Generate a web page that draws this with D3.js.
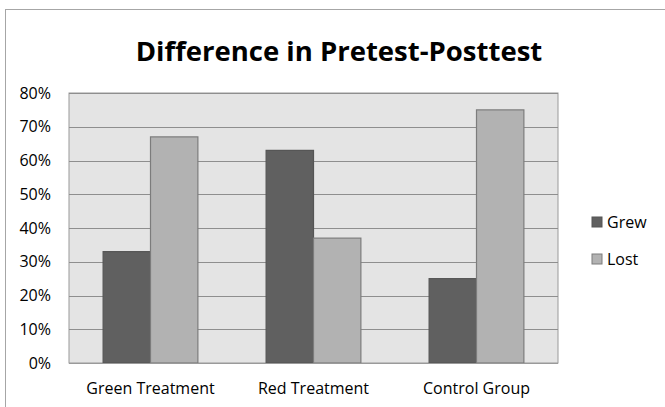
<!DOCTYPE html>
<html>
<head>
<meta charset="utf-8">
<script src="https://cdn.jsdelivr.net/npm/d3@7"></script>
<style>
  body { margin: 0; background: #fff; }
  text { font-family: "Open Sans", sans-serif; fill: #000; }
</style>
</head>
<body>
<svg id="chart" width="665" height="407"></svg>
<script>
// chart data
const categories = ["Green Treatment", "Red Treatment", "Control Group"];
const seriesNames = ["Grew", "Lost"];
const grew = [0.33, 0.63, 0.25];
const lost = [0.67, 0.37, 0.75];
const yTicks = [0, 0.1, 0.2, 0.3, 0.4, 0.5, 0.6, 0.7, 0.8];
const title = "Difference in Pretest-Posttest";

const colors = { Grew: "#606060", Lost: "#b2b2b2" };
const strokes = { Grew: "#555555", Lost: "#7c7c7c" };

const svg = d3.select("#chart");

// outer chart frame
svg.append("rect")
  .attr("x", 5.5).attr("y", 9.5)
  .attr("width", 700).attr("height", 420)
  .attr("fill", "none").attr("stroke", "#a6a6a6");

const plot = { left: 69, right: 558, top: 93, bottom: 363 };

const x = d3.scaleBand()
  .domain(categories)
  .range([plot.left, plot.right])
  .paddingInner(0)
  .paddingOuter(0);

const x1 = d3.scaleBand()
  .domain(seriesNames)
  .range([0, x.bandwidth()])
  .paddingOuter(0.72)
  .paddingInner(0);

const y = d3.scaleLinear()
  .domain([0, 0.8])
  .range([plot.bottom, plot.top]);

// plot background
svg.append("rect")
  .attr("x", plot.left).attr("y", plot.top)
  .attr("width", plot.right - plot.left).attr("height", plot.bottom - plot.top)
  .attr("fill", "#e4e4e4").attr("stroke", "#9a9a9a");

// gridlines
svg.append("g")
  .selectAll("line")
  .data(yTicks.slice(1))
  .join("line")
  .attr("x1", plot.left).attr("x2", plot.right)
  .attr("y1", d => Math.round(y(d)) + 0.5).attr("y2", d => Math.round(y(d)) + 0.5)
  .attr("stroke", "#8e8e8e");

// y axis labels
const yAxis = svg.append("g")
  .attr("transform", `translate(${plot.left},0)`)
  .call(d3.axisLeft(y).tickValues(yTicks).tickFormat(d3.format(".0%")).tickSize(0).tickPadding(18));
yAxis.select(".domain").remove();
yAxis.selectAll("text")
  .style("font-family", "\"Open Sans\", sans-serif")
  .style("font-size", "16px")
  .attr("fill", "#000");

// x axis labels
const xAxis = svg.append("g")
  .attr("transform", `translate(0,${plot.bottom})`)
  .call(d3.axisBottom(x).tickSize(0).tickPadding(20));
xAxis.select(".domain").remove();
xAxis.selectAll("text")
  .style("font-family", "\"Open Sans\", sans-serif")
  .style("font-size", "16px")
  .attr("fill", "#000");

// bars
const rows = categories.map((c, i) => ({ category: c, Grew: grew[i], Lost: lost[i] }));
svg.append("g")
  .selectAll("g")
  .data(rows)
  .join("g")
  .attr("transform", d => `translate(${x(d.category)},0)`)
  .selectAll("rect")
  .data(d => seriesNames.map(s => ({ key: s, value: d[s] })))
  .join("rect")
  .attr("x", d => x1(d.key))
  .attr("y", d => y(d.value))
  .attr("width", x1.bandwidth())
  .attr("height", d => y(0) - y(d.value))
  .attr("fill", d => colors[d.key])
  .attr("stroke", d => strokes[d.key])
  .attr("stroke-width", 1.2);

// redraw bottom axis line over bars
svg.append("line")
  .attr("x1", plot.left).attr("x2", plot.right)
  .attr("y1", plot.bottom + 0.5).attr("y2", plot.bottom + 0.5)
  .attr("stroke", "#9a9a9a");

// title
svg.append("text")
  .attr("x", 339)
  .attr("y", 61)
  .attr("text-anchor", "middle")
  .style("font-size", "27.5px")
  .style("font-weight", "bold")
  .text(title);

// legend
const legend = svg.append("g")
  .selectAll("g")
  .data(seriesNames)
  .join("g")
  .attr("transform", (d, i) => `translate(592,${217 + i * 37})`);
legend.append("rect")
  .attr("width", 10).attr("height", 10)
  .attr("fill", d => colors[d])
  .attr("stroke", d => strokes[d]);
legend.append("text")
  .attr("x", 15).attr("y", 11)
  .style("font-size", "16px")
  .text(d => d);
</script>
</body>
</html>
